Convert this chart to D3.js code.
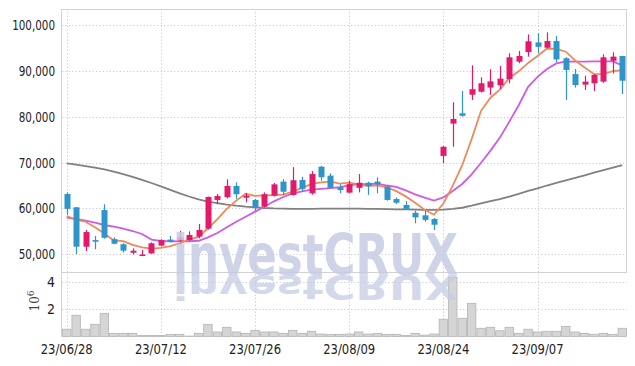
<!DOCTYPE html>
<html><head><meta charset="utf-8">
<script src="https://cdn.jsdelivr.net/npm/d3@7"></script>
<style>body{margin:0;background:#fff}</style>
</head><body><svg id="c" width="635" height="366"></svg>
<script>
const dates = ["23/06/28","23/06/29","23/06/30","23/07/03","23/07/04","23/07/05","23/07/06","23/07/07","23/07/10","23/07/11",
"23/07/12","23/07/13","23/07/14","23/07/17","23/07/18","23/07/19","23/07/20","23/07/21","23/07/24","23/07/25",
"23/07/26","23/07/27","23/07/28","23/07/31","23/08/01","23/08/02","23/08/03","23/08/04","23/08/07","23/08/08",
"23/08/09","23/08/10","23/08/11","23/08/14","23/08/16","23/08/17","23/08/18","23/08/21","23/08/22","23/08/23",
"23/08/24","23/08/25","23/08/28","23/08/29","23/08/30","23/08/31","23/09/01","23/09/04","23/09/05","23/09/06",
"23/09/07","23/09/08","23/09/11","23/09/12","23/09/13","23/09/14","23/09/15","23/09/18","23/09/19","23/09/20"];
const openP = [63150,60250,51650,53100,59650,53300,52200,50350,49750,50200,
51900,53200,52950,53100,53850,55600,61850,62450,64900,62350,
61850,60400,62800,65850,62950,66200,63300,69100,67150,64600,
63450,64500,65600,65850,64750,62050,60750,59050,58500,57700,
71450,78500,80750,84800,85450,86350,86850,88200,92000,94100,
96200,95050,96500,92750,89300,87000,87300,87650,92200,93250];
const highP = [63500,60300,55300,54000,60900,53700,52400,51300,50950,52600,
53300,54000,55100,55000,56600,62600,63150,66350,65700,63400,
62100,63500,65550,66400,69000,66900,68150,69300,67650,65250,
66050,67500,65850,66800,65000,62400,61600,59500,59500,57900,
73600,83150,85600,91200,88600,90350,91100,93850,94350,97950,
98200,98400,97600,93000,90400,88950,89300,93600,94050,93300];
const lowP = [58600,50050,50700,51100,53400,52200,50400,50000,49700,50100,
51700,52600,52700,52900,53500,55400,60900,62200,62100,61350,
59450,60250,62600,62900,62800,63650,63000,66050,64300,63300,
63300,63500,62950,63300,61700,60950,59700,56750,57100,55300,
69850,73450,80000,83650,85300,84750,86050,87300,91650,93100,
93850,94900,91850,83650,86350,85850,85600,87400,89450,84950];
const closeP = [59900,51650,54850,52750,53600,52300,50800,50780,49950,52400,
53100,52700,53700,54200,55300,62500,62700,64900,63100,62800,
60250,63100,65250,63650,66150,64250,67500,66800,64500,64000,
65300,65600,64900,65250,61850,61250,59900,58050,57500,56450,
73450,79500,80200,86000,87300,87700,88300,92950,93250,96450,
95250,96500,92500,90200,86900,87650,89100,92950,93100,87850];
const volume = [0.53,1.55,0.53,0.89,1.69,0.23,0.23,0.23,0.08,0.08,
0.08,0.16,0.16,0.03,0.23,0.89,0.33,0.67,0.33,0.23,
0.45,0.33,0.33,0.23,0.45,0.23,0.38,0.18,0.16,0.16,
0.18,0.33,0.18,0.23,0.16,0.16,0.08,0.23,0.10,0.18,
1.26,4.32,1.33,2.42,0.60,0.67,0.42,0.67,0.23,0.53,
0.33,0.38,0.38,0.74,0.33,0.23,0.16,0.23,0.16,0.60];
const ma5 = [58350,57500,57100,55900,54550,53030,52860,52050,51490,51250,
51410,51790,52370,53220,53800,55680,57680,59920,61700,63200,
62750,62830,62900,63010,63680,64480,65360,65670,65840,65410,
65620,65240,64860,65010,64580,63770,62630,61260,59710,58630,
61070,64990,69420,75120,81290,84140,85900,88450,89900,91730,
93240,94880,94790,94180,92270,90750,89270,89360,89940,90130];
const ma10 = [57990,57700,57330,56890,56390,56020,55580,55080,54430,53200,
52900,52850,52800,52850,52950,53700,54650,55900,57100,58200,
59300,60350,61550,62500,63300,63700,64080,64280,64440,64620,
65050,65300,65270,65430,65000,64700,63940,63060,62360,61700,
62420,63810,65340,67420,69960,72610,75450,78940,82510,86510,
88690,90390,91620,92040,92000,92000,92080,92080,92060,91200];
const ma120 = [69830,69550,69250,68900,68500,68050,67500,66900,66250,65550,
64800,64050,63300,62600,62000,61500,61150,60850,60600,60400,
60250,60100,60000,59950,59900,59900,59900,59950,59950,59950,
59950,59950,59900,59900,59850,59800,59800,59750,59700,59700,
59750,59900,60150,60600,61100,61600,62050,62600,63200,63850,
64400,65000,65550,66100,66650,67200,67800,68350,68900,69450];
const priceTicks = [50000,60000,70000,80000,90000,100000];
const volTicks = [2,4];
const dateTicks = ["23/06/28","23/07/12","23/07/26","23/08/09","23/08/24","23/09/07"];

const svg = d3.select("#c");
const L = 62, R = 627, T = 9, PB = 272, VB = 336.5;
const font = "'DejaVu Sans Condensed','DejaVu Sans',sans-serif";
const x = d3.scaleBand().domain(dates).range([L, R]).padding(0);
const cx = d => x(d) + x.bandwidth() / 2;
const y = d3.scaleLinear().domain([46140, 103490]).range([PB, T]);
const yv = d3.scaleLinear().domain([0, 4.71]).range([VB, PB]);
const idx = d3.range(dates.length);
// narrow label width: digits/slashes 6.5px, commas 3.8px
const labelLen = s => s.split("").reduce((a, c) => a + (c === "," ? 3.8 : 6.5), 0);

// grid
const grid = svg.append("g").attr("stroke", "#c9c9da").attr("stroke-dasharray", "1.2,2.2").attr("stroke-width", 1);
grid.selectAll(".hp").data(priceTicks).join("line")
  .attr("x1", L).attr("x2", R).attr("y1", d => Math.round(y(d)) + 0.5).attr("y2", d => Math.round(y(d)) + 0.5);
grid.selectAll(".hv").data(volTicks).join("line")
  .attr("x1", L).attr("x2", R).attr("y1", d => Math.round(yv(d)) + 0.5).attr("y2", d => Math.round(yv(d)) + 0.5);
grid.selectAll(".vt").data(dateTicks).join("line")
  .attr("x1", d => Math.round(cx(d)) + 0.5).attr("x2", d => Math.round(cx(d)) + 0.5).attr("y1", T).attr("y2", VB);

// volume bars
svg.append("g").selectAll("rect").data(idx).join("rect")
  .attr("x", i => x(dates[i]) + 0.5).attr("width", x.bandwidth() - 1)
  .attr("y", i => yv(volume[i])).attr("height", i => VB - yv(volume[i]))
  .attr("fill", "#d5d5d5").attr("stroke", "#b3b3b3").attr("stroke-width", 0.8);

// borders
const bd = svg.append("g").attr("stroke", "#d2d2d2").attr("fill", "none");
bd.append("line").attr("x1", L - 0.5).attr("x2", L - 0.5).attr("y1", T).attr("y2", VB);
bd.append("line").attr("x1", L).attr("x2", R).attr("y1", T + 0.5).attr("y2", T + 0.5);
bd.append("line").attr("x1", R - 0.5).attr("x2", R - 0.5).attr("y1", T).attr("y2", PB);
bd.append("line").attr("x1", L).attr("x2", R).attr("y1", PB + 0.5).attr("y2", PB + 0.5);

// moving averages
const line = arr => d3.line().x(i => cx(dates[i])).y(i => y(arr[i]))(idx);
svg.append("path").attr("d", line(ma120)).attr("fill", "none").attr("stroke", "#808080").attr("stroke-width", 1.8);
svg.append("path").attr("d", line(ma10)).attr("fill", "none").attr("stroke", "#cc5ce8").attr("stroke-width", 1.8);
svg.append("path").attr("d", line(ma5)).attr("fill", "none").attr("stroke", "#f0895a").attr("stroke-width", 1.8);

// candles
const up = "#e3196b", down = "#2f95c9";
const cg = svg.append("g");
cg.selectAll("line").data(idx).join("line")
  .attr("x1", i => Math.round(cx(dates[i])) + 0.5).attr("x2", i => Math.round(cx(dates[i])) + 0.5)
  .attr("y1", i => y(highP[i])).attr("y2", i => y(lowP[i]))
  .attr("stroke", i => closeP[i] >= openP[i] ? up : down).attr("stroke-width", 1.2);
cg.selectAll("rect").data(idx).join("rect")
  .attr("x", i => Math.round(cx(dates[i])) + 0.5 - 3).attr("width", 6)
  .attr("y", i => y(Math.max(openP[i], closeP[i])))
  .attr("height", i => Math.max(1.5, Math.abs(y(openP[i]) - y(closeP[i]))))
  .attr("fill", i => closeP[i] >= openP[i] ? up : down);

// watermark
const defs = svg.append("defs");
const gr = defs.append("linearGradient").attr("id", "fade").attr("gradientUnits", "userSpaceOnUse")
  .attr("x1", 0).attr("x2", 0).attr("y1", 276).attr("y2", 302);
gr.append("stop").attr("offset", 0).attr("stop-color", "#c5cbe4").attr("stop-opacity", 0.75);
gr.append("stop").attr("offset", 1).attr("stop-color", "#c5cbe4").attr("stop-opacity", 0);
svg.append("text").attr("x", 173).attr("y", 275)
  .attr("textLength", 285).attr("lengthAdjust", "spacingAndGlyphs")
  .attr("font-family", "'DejaVu Sans',sans-serif").attr("font-weight", "bold").attr("font-size", 57)
  .attr("fill", "#c5cbe4").attr("fill-opacity", 0.85).text("investCRUX");
svg.append("text").attr("x", 173).attr("y", 275)
  .attr("textLength", 285).attr("lengthAdjust", "spacingAndGlyphs")
  .attr("transform", "translate(0,440) scale(1,-0.6)")
  .attr("font-family", "'DejaVu Sans',sans-serif").attr("font-weight", "bold").attr("font-size", 57)
  .attr("fill", "url(#fade)").text("investCRUX");

// axis labels
const lab = (sel) => sel.attr("font-family", font).attr("font-size", 14).attr("fill", "#222")
  .attr("lengthAdjust", "spacingAndGlyphs");
lab(svg.append("g").selectAll("text").data(priceTicks).join("text")
  .attr("x", 55).attr("y", d => y(d)).attr("dy", "0.36em").attr("text-anchor", "end")
  .text(d => d3.format(",")(d)).attr("textLength", d => labelLen(d3.format(",")(d))));
lab(svg.append("g").selectAll("text").data(volTicks).join("text")
  .attr("x", 55).attr("y", d => yv(d)).attr("dy", "0.36em").attr("text-anchor", "end").text(d => d));
const ex = svg.append("text").attr("transform", "translate(39,301) rotate(-90)").attr("text-anchor", "middle")
  .attr("font-family", "'DejaVu Serif',serif").attr("font-size", 12).attr("fill", "#444");
ex.append("tspan").text("10");
ex.append("tspan").attr("dy", -5).attr("font-size", 9).text("6");
lab(svg.append("g").selectAll("text").data(dateTicks).join("text")
  .attr("x", d => cx(d)).attr("y", 349).attr("dy", "0.36em").attr("text-anchor", "middle")
  .text(d => d).attr("textLength", d => labelLen(d)));
</script></body></html>
